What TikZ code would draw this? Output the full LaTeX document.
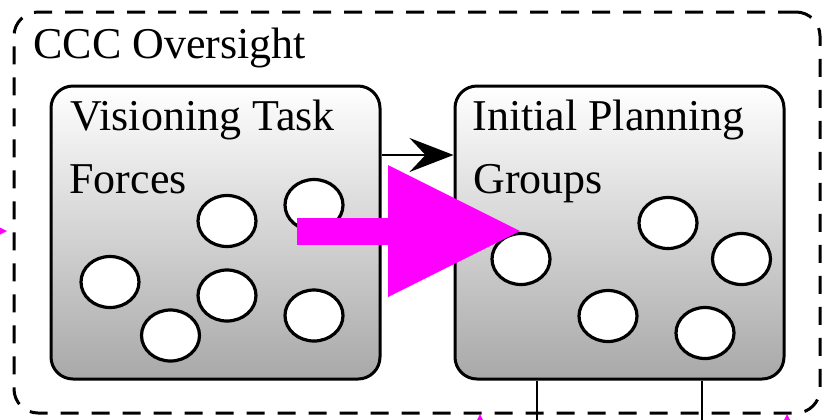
\documentclass[tikz,border=0pt]{standalone}
\usepackage{fontspec}
\setmainfont{Liberation Serif}
\usetikzlibrary{arrows.meta,shapes.geometric}

\definecolor{hotpink}{RGB}{255,0,255}
\tikzset{
  oversight/.style={draw, line width=1.5pt, dash pattern=on 9pt off 6.5pt,
    rounded corners=12pt, minimum width=403pt, minimum height=200.5pt},
  panel/.style={draw, line width=1.5pt, rounded corners=11pt,
    top color=white, bottom color=black!34,
    minimum width=164.5pt, minimum height=146.5pt},
  member/.style={draw, ellipse, line width=1.6pt, fill=white, inner sep=0pt,
    minimum width=29pt, minimum height=25.5pt},
  heading/.style={anchor=base west, inner sep=0pt, font=\fontsize{22}{26}\selectfont},
  flow/.style={line width=1.3pt, -{Stealth[length=22pt,width=17pt,inset=8pt]}},
  wire/.style={line width=1pt},
  hint/.style={hotpink, line width=13.5pt,
    -{Triangle[length=66pt,width=66pt,line width=0pt]}}
}

\begin{document}
\begin{tikzpicture}[x=0.5pt,y=-0.5pt]
  \useasboundingbox (0,0) rectangle (825,419);
  \clip (0,0) rectangle (825,419);
      \node[oversight] (ccc) at (417,212.5) {};
      \node[heading] (ccct) at (33,58) {CCC Oversight};
      % the two groups
      \node[panel] (vtf) at (215.5,232.5) {};
      \node[panel] (ipg) at (619.5,232.5) {};
      \node[heading] (vtfa) at (70,130) {Visioning Task};
      \node[heading] (vtfb) at (69,193) {Forces};
      \node[heading] (ipga) at (472,130) {Initial Planning};
      \node[heading] (ipgb) at (473,193) {Groups};
      % members
      \node[member] (v1) at (110,282) {};
      \node[member] (v2) at (170.5,335.5) {};
      \node[member] (v3) at (227,295.5) {};
      \node[member] (v4) at (227,221) {};
      \node[member] (v5) at (314,315.5) {};
      \node[member] (v6) at (314,205) {};
      \node[member] (p1) at (521,259) {};
      \node[member] (p2) at (668,223) {};
      \node[member] (p3) at (741.5,259) {};
      \node[member] (p4) at (608,316) {};
      \node[member] (p5) at (705,333) {};
      \draw[flow] (vtf.east |- 0,155) -- (ipg.west |- 0,155);
      \coordinate (out1) at (537,430);
      \coordinate (out2) at (702,430);
      \draw[wire] (ipg.south -| out1) -- (out1);
      \draw[wire] (ipg.south -| out2) -- (out2);
      % overlay arrows
      \coordinate (hs) at (297,231);
      \coordinate (he) at (520,231);
      \coordinate (ls) at (-230,231);
      \coordinate (le) at (7,231);
      \coordinate (b1s) at (480,650);
      \coordinate (b1e) at (480,414);
      \coordinate (b2s) at (787,650);
      \coordinate (b2e) at (787,414);
      \draw[hint] (hs) -- (he);
      \draw[hint] (ls) -- (le);
      \draw[hint] (b1s) -- (b1e);
      \draw[hint] (b2s) -- (b2e);
      %\draw[thick] (vtf) -- (ipg);
  \end{tikzpicture}
\end{document}
